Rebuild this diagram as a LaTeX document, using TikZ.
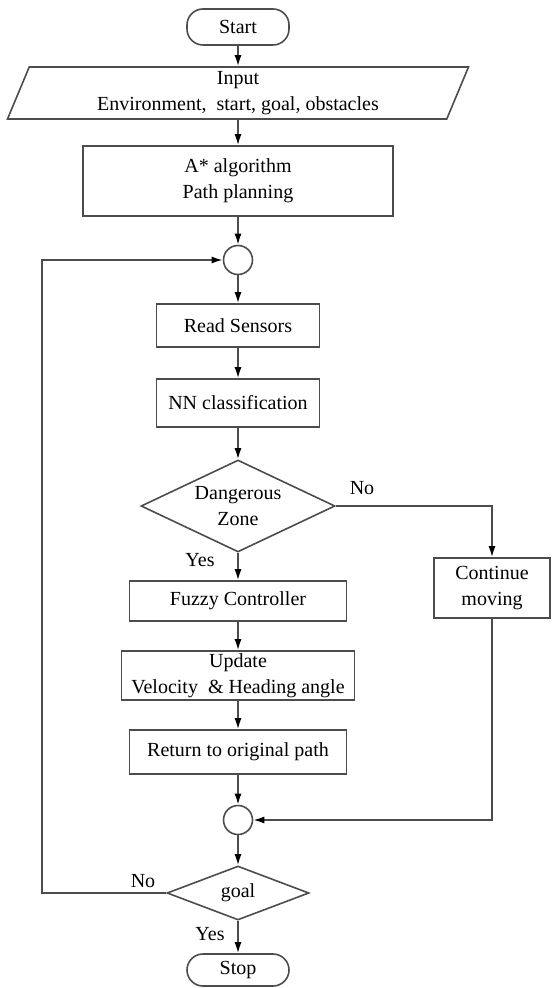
\documentclass[tikz,border=0pt]{standalone}
\usepackage{fontspec}
\setmainfont{Liberation Serif}
\usetikzlibrary{shapes.geometric,arrows.meta}

\begin{document}
\begin{tikzpicture}[x=0.5pt, y=-0.5pt,
    every node/.style={font=\fontsize{10}{13}\selectfont, align=center},
    box/.style={draw=black!70, line width=0.8pt, rectangle, inner sep=1pt},
    term/.style={box, rounded corners=8pt, minimum width=51pt, minimum height=18pt},
    dec/.style={draw=black!70, line width=0.8pt, diamond, inner sep=0pt},
    junction/.style={draw=black!70, line width=0.8pt, circle, minimum size=14.5pt, inner sep=0pt},
    arr/.style={draw=black!70, line width=0.8pt, -{Latex[length=5.5pt,width=3.5pt,color=black]}},
    lbl/.style={inner sep=0pt}]
    \useasboundingbox (0,0) rectangle (551,988);
    \node[term] (start) at (238,27) {Start};
    \node[draw=black!70, line width=0.8pt, trapezium, trapezium left angle=63.4, trapezium right angle=116.6,
        trapezium stretches body, minimum width=230.5pt, minimum height=26pt, inner sep=0pt] (input) at (238,93)
        {Input\\Environment,~ start, goal, obstacles};
    \node[box, minimum width=155pt, minimum height=35pt] (astar) at (238,181) {A* algorithm\\Path planning};
    \node[junction] (c1) at (238,260) {};
    \node[box, minimum width=81.5pt, minimum height=21.5pt] (read) at (238,325.5) {Read Sensors};
    \node[box, minimum width=81.5pt, minimum height=24pt] (nn) at (238,403) {NN classification};
    \node[dec, minimum width=97pt, minimum height=46pt, aspect=2.1] (danger) at (238,506) {Dangerous\\Zone};
    \node[box, minimum width=108.5pt, minimum height=20pt] (fuzzy) at (238,601) {Fuzzy Controller};
    \node[box, minimum width=116.5pt, minimum height=24.5pt] (update) at (238,675.5) {Update\\Velocity~ \& Heading angle};
    \node[box, minimum width=108.5pt, minimum height=22pt] (ret) at (238,752) {Return to original path};
    \node[junction] (c2) at (238,820) {};
    \node[dec, minimum width=71pt, minimum height=27pt, aspect=2.6] (goal) at (238,893) {goal};
    \node[term, minimum height=16pt] (stop) at (238,970) {Stop};
    \node[box, minimum width=58pt, minimum height=30pt] (cont) at (492,588) {Continue\\moving};
    \node[lbl] (no1) at (362,488) {No};
    \node[lbl] (yes1) at (200,560) {Yes};
    \node[lbl] (no2) at (143,881) {No};
    \node[lbl] (yes2) at (210,934) {Yes};
    \foreach \a/\b in {start/input, input/astar, astar/c1, c1/read, read/nn, nn/danger, danger/fuzzy,
        fuzzy/update, update/ret, ret/c2, c2/goal, goal/stop}
    \draw[arr] (\a) -- (\b);
    \draw[arr] (danger.east) -| (cont.north);
    \draw[arr] (cont.south) |- (c2.east);
    \coordinate (back) at (42,260);
    \draw[arr] (goal.west) -| (back) -- (c1.west);
\end{tikzpicture}
\end{document}
